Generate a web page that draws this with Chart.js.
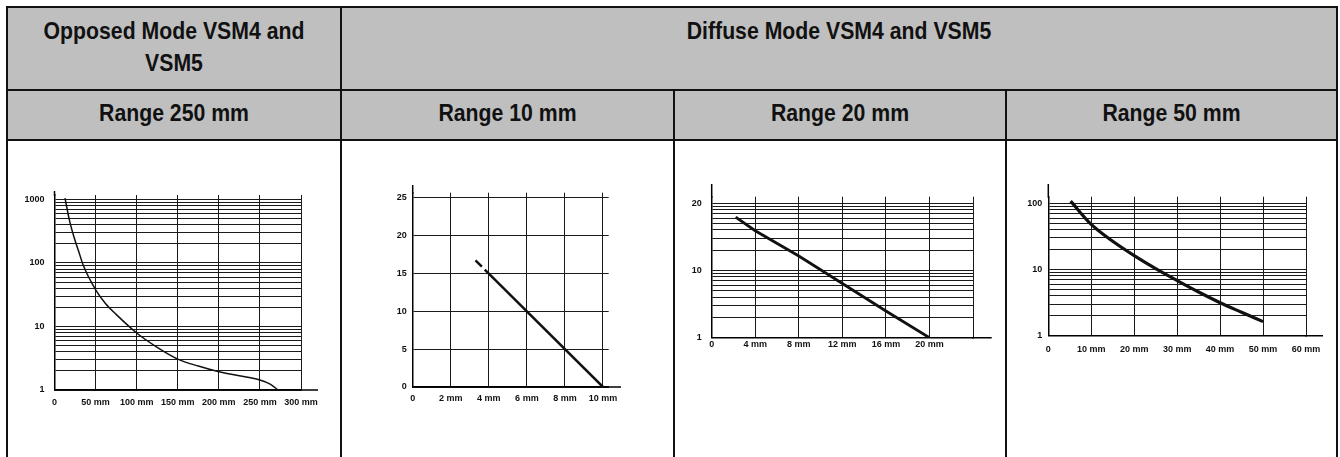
<!DOCTYPE html>
<html>
<head>
<meta charset="utf-8">
<script src="https://cdn.jsdelivr.net/npm/chart.js@4"></script>
<style>
  body { margin:0; background:#fff; width:1340px; height:457px; overflow:hidden; position:relative; font-family:"Liberation Sans", Arial, sans-serif; }
  .fill { position:absolute; background:#bfbfbf; }
  .ln { position:absolute; background:#111; }
  .hd { position:absolute; font-weight:bold; font-size:24px; line-height:31.7px; text-align:center; color:#111; transform:scaleX(0.885); white-space:nowrap; }
  canvas { position:absolute; }
</style>
</head>
<body>

<div class="fill" style="left:8px; top:8px; width:1328px; height:81px;"></div>
<div class="fill" style="left:8px; top:91px; width:1328px; height:48px;"></div>

<div class="ln" style="left:6px; top:6px; width:1332px; height:2px;"></div>
<div class="ln" style="left:6px; top:89px; width:1332px; height:2px;"></div>
<div class="ln" style="left:6px; top:139px; width:1332px; height:2px;"></div>
<div class="ln" style="left:6px; top:6px; width:2px; height:451px;"></div>
<div class="ln" style="left:1336px; top:6px; width:2px; height:451px;"></div>
<div class="ln" style="left:340px; top:6px; width:2px; height:451px;"></div>
<div class="ln" style="left:673px; top:89px; width:2px; height:368px;"></div>
<div class="ln" style="left:1005px; top:89px; width:2px; height:368px;"></div>

<div class="hd" style="left:8px; width:332px; top:15px;">Opposed Mode VSM4 and<br>VSM5</div>
<div class="hd" style="left:342px; width:994px; top:15px;">Diffuse Mode VSM4 and VSM5</div>
<div class="hd" style="left:8px; width:332px; top:97px;">Range 250 mm</div>
<div class="hd" style="left:342px; width:331px; top:97px;">Range 10 mm</div>
<div class="hd" style="left:675px; width:330px; top:97px;">Range 20 mm</div>
<div class="hd" style="left:1007px; width:329px; top:97px;">Range 50 mm</div>

<canvas id="c1"></canvas>
<canvas id="c2"></canvas>
<canvas id="c3"></canvas>
<canvas id="c4"></canvas>

<script>
// Opposed mode, range 250 mm (log gain vs distance)
let dist1 = [12.8, 18, 23.7, 29.4, 35, 50.5, 62, 75, 100, 125, 150, 175, 200, 225, 250, 263, 272];
let gain1 = [1050, 483, 257, 153, 92, 37, 23, 15.5, 7.9, 4.7, 3.07, 2.38, 1.94, 1.67, 1.44, 1.23, 1.0];
let xTicks1 = [0, 50, 100, 150, 200, 250, 300];
let xLabels1 = ['0', '50 mm', '100 mm', '150 mm', '200 mm', '250 mm', '300 mm'];
let yTicks1 = [1, 10, 100, 1000];
let yLabels1 = ['1', '10', '100', '1000'];

// Diffuse mode, range 10 mm (first piece dashed)
let dist2 = [3.3, 4, 10];
let gain2 = [16.75, 15, 0];
let xTicks2 = [0, 2, 4, 6, 8, 10];
let xLabels2 = ['0', '2 mm', '4 mm', '6 mm', '8 mm', '10 mm'];
let yTicks2 = [0, 5, 10, 15, 20, 25];
let yLabels2 = ['0', '5', '10', '15', '20', '25'];

// Diffuse mode, range 20 mm
let dist3 = [2.2, 4, 8, 12, 16, 20];
let gain3 = [62, 39, 16.4, 6.4, 2.5, 1];
let xTicks3 = [0, 4, 8, 12, 16, 20, 24];
let xLabels3 = ['0', '4 mm', '8 mm', '12 mm', '16 mm', '20 mm', ''];
let yTicks3 = [1, 10, 100];
let yLabels3 = ['1', '10', '20'];

// Diffuse mode, range 50 mm
let dist4 = [5.2, 10, 15, 20, 25, 30, 35, 40, 45, 50];
let gain4 = [108, 48, 26.7, 16.2, 10.3, 6.8, 4.57, 3.15, 2.26, 1.63];
let xTicks4 = [0, 10, 20, 30, 40, 50, 60];
let xLabels4 = ['0', '10 mm', '20 mm', '30 mm', '40 mm', '50 mm', '60 mm'];
let yTicks4 = [1, 10, 100];
let yLabels4 = ['1', '10', '100'];

let tickFont = { family: '"Liberation Sans", Arial, sans-serif', size: 9, weight: 'bold' };

// axis lines stick out past the grid a little
let axisExtend = {
    id: 'axisExtend',
    afterDraw(chart, args, opts) {
        let a = chart.chartArea;
        let ctx = chart.ctx;
        ctx.save();
        ctx.strokeStyle = '#000';
        ctx.lineWidth = 1.5;
        ctx.beginPath();
        ctx.moveTo(a.left, a.top + 1);
        ctx.lineTo(a.left, a.top - opts.top);
        ctx.moveTo(a.right - 1, a.bottom);
        ctx.lineTo(a.right + opts.right, a.bottom);
        ctx.stroke();
        ctx.restore();
    }
};

// 1..9 x each decade, for the log paper lines
function logGrid(decades){
    let out = [];
    for(let i = 0; i < decades.length - 1; i++){
        for(let k = 1; k < 10; k++) out.push(decades[i] * k);
    }
    out.push(decades[decades.length - 1]);
    return out;
}

function makeChart(id, box, set){

    let canvas = document.getElementById(id);
    canvas.width = box.w;
    canvas.height = box.h;
    canvas.style.left = box.x + 'px';
    canvas.style.top = box.y + 'px';

    let yGrid = set.yLog ? logGrid(set.yTicks) : set.yTicks;

    return new Chart(canvas, {
        type: 'line',
        data: {
            datasets: [{
                data: set.x.map((v, i) => ({ x: v, y: set.y[i] })),
                borderColor: '#111',
                borderWidth: set.lineWidth,
                pointRadius: 0,
                cubicInterpolationMode: set.smooth ? 'monotone' : 'default',
                segment: {
                    borderDash: ctx => (set.dashFirst && ctx.p0DataIndex === 0) ? [9, 4] : undefined
                }
            }]
        },
        options: {
            responsive: false,
            animation: false,
            devicePixelRatio: 1,
            layout: { padding: box.pad },
            plugins: {
                legend: { display: false },
                tooltip: { enabled: false },
                axisExtend: box.ext
            },
            scales: {
                x: {
                    type: 'linear',
                    min: set.xMin,
                    max: set.xMax,
                    afterFit: s => { s.height = 30; },
                    afterBuildTicks: s => { s.ticks = set.xTicks.map(v => ({ value: v })); },
                    ticks: {
                        autoSkip: false,
                        maxRotation: 0,
                        padding: box.xPad,
                        font: tickFont,
                        color: '#111',
                        callback: v => {
                            let i = set.xTicks.indexOf(v);
                            return i < 0 ? '' : set.xLabels[i];
                        }
                    },
                    grid: { color: '#1a1a1a', lineWidth: 1, drawTicks: false },
                    border: { color: '#000', width: 1.5 }
                },
                y: {
                    type: set.yLog ? 'logarithmic' : 'linear',
                    min: set.yMin,
                    max: set.yMax,
                    afterFit: s => { s.width = 30; },
                    afterBuildTicks: s => { s.ticks = yGrid.map(v => ({ value: v })); },
                    ticks: {
                        autoSkip: false,
                        padding: box.yPad,
                        font: tickFont,
                        color: '#111',
                        callback: v => {
                            let i = set.yTicks.indexOf(v);
                            return i < 0 ? '' : set.yLabels[i];
                        }
                    },
                    grid: { color: '#1a1a1a', lineWidth: 1, drawTicks: false },
                    border: { color: '#000', width: 1.5 }
                }
            }
        },
        plugins: [axisExtend]
    });
}

makeChart('c1',
    { x: 9, y: 142, w: 331, h: 315, pad: { left: 15.5, right: 39, top: 53, bottom: 37 }, ext: { top: 4, right: 17 }, xPad: 7, yPad: 10 },
    { x: dist1, y: gain1, xTicks: xTicks1, xLabels: xLabels1, yTicks: yTicks1, yLabels: yLabels1,
      xMin: 0, xMax: 300, yMin: 1, yMax: 1177, yLog: true, smooth: true, lineWidth: 1.5 });

makeChart('c2',
    { x: 342, y: 142, w: 331, h: 315, pad: { left: 40.7, right: 64.3, top: 50.7, bottom: 40 }, ext: { top: 7.7, right: 12.3 }, xPad: 6, yPad: 6 },
    { x: dist2, y: gain2, xTicks: xTicks2, xLabels: xLabels2, yTicks: yTicks2, yLabels: yLabels2,
      xMin: 0, xMax: 10.3, yMin: 0, yMax: 25.7, yLog: false, dashFirst: true, lineWidth: 2.5 });

makeChart('c3',
    { x: 675, y: 142, w: 330, h: 315, pad: { left: 6.7, right: 32, top: 54.7, bottom: 89.3 }, ext: { top: 12.7, right: 18.7 }, xPad: 1, yPad: 10 },
    { x: dist3, y: gain3, xTicks: xTicks3, xLabels: xLabels3, yTicks: yTicks3, yLabels: yLabels3,
      xMin: 0, xMax: 24, yMin: 1, yMax: 125, yLog: true, lineWidth: 2.8 });

makeChart('c4',
    { x: 1007, y: 142, w: 330, h: 315, pad: { left: 11.3, right: 31, top: 54.7, bottom: 91.3 }, ext: { top: 12.7, right: 17 }, xPad: 8, yPad: 6 },
    { x: dist4, y: gain4, xTicks: xTicks4, xLabels: xLabels4, yTicks: yTicks4, yLabels: yLabels4,
      xMin: 0, xMax: 60, yMin: 1, yMax: 126, yLog: true, smooth: true, lineWidth: 3.2 });
</script>
</body>
</html>
